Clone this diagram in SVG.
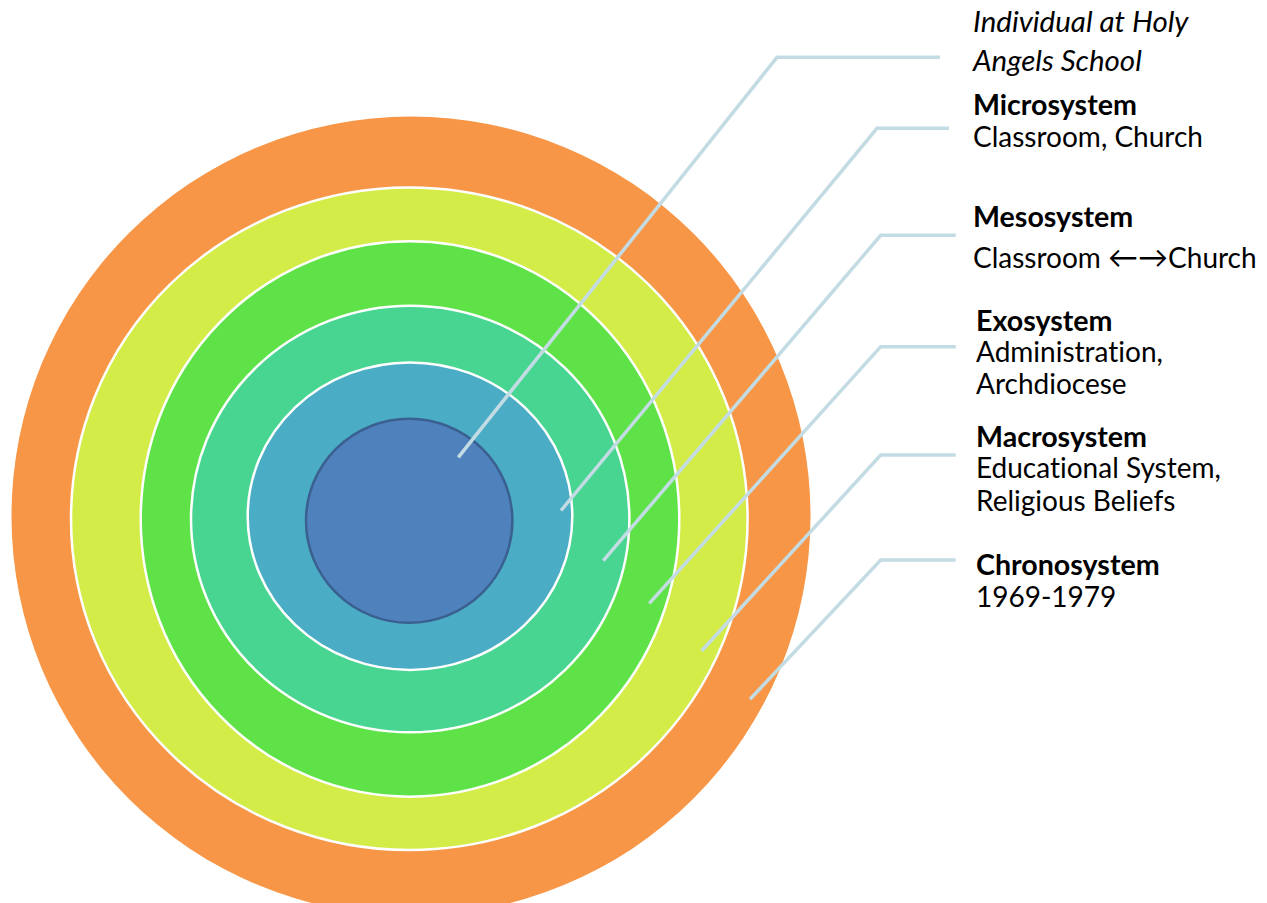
<svg xmlns="http://www.w3.org/2000/svg" width="1267" height="903" viewBox="0 0 1267 903">
<style>
.ring{stroke:#FFFFFF;stroke-width:2.5}
.conn{fill:none;stroke:#C3DCE4;stroke-width:3.5}
.t{font-family:Lato,"Liberation Sans",sans-serif;font-size:28px;fill:#000000;font-variant-ligatures:none}
.b{font-weight:bold;font-size:28.6px}
.i{font-style:italic;font-size:29.5px}
.ar{font-size:30px}
</style>
<rect width="1267" height="903" fill="#FFFFFF"/>
<g id="chronosystem-ring"><ellipse cx="411" cy="516" rx="399.5" ry="399.5" fill="#F79646"/></g>
<g id="macrosystem-ring"><ellipse class="ring" cx="409.3" cy="518.7" rx="338.3" ry="331.3" fill="#D4EC48"/></g>
<g id="exosystem-ring"><ellipse class="ring" cx="410" cy="519" rx="269.3" ry="277.7" fill="#5EE248"/></g>
<g id="mesosystem-ring"><ellipse class="ring" cx="410.2" cy="519" rx="219.2" ry="213.3" fill="#48D592"/></g>
<g id="microsystem-ring"><ellipse class="ring" cx="410" cy="516.2" rx="162.3" ry="153.8" fill="#4BACC6"/></g>
<g id="individual"><ellipse cx="409.2" cy="520.8" rx="103.2" ry="102" fill="#4F81BD" stroke="#3A6090" stroke-width="2.5"/></g>
<g id="connectors">
<polyline class="conn" points="458.3,457.3 777,57.3 940,57.3"/>
<polyline class="conn" points="561,510.5 877,128.3 949,128.3"/>
<polyline class="conn" points="603.3,560.7 880.7,235.3 955.7,235.3"/>
<polyline class="conn" points="649.3,603.3 880.7,346.7 955.7,346.7"/>
<polyline class="conn" points="701.7,650.7 880.7,455 955.7,455"/>
<polyline class="conn" points="750,699.3 880.7,560 955.7,560"/>
</g>
<g id="label-individual">
<text class="t i" x="973" y="32">Individual at Holy</text>
<text class="t i" x="973" y="71">Angels School</text>
</g>
<g id="label-microsystem">
<text class="t b" x="973" y="115">Microsystem</text>
<text class="t" x="973" y="146.7">Classroom, Church</text>
</g>
<g id="label-mesosystem">
<text class="t b" x="973" y="226.7">Mesosystem</text>
<text class="t" x="973" y="267.7">Classroom <tspan class="ar">←→</tspan>Church</text>
</g>
<g id="label-exosystem">
<text class="t b" x="976" y="330.7">Exosystem</text>
<text class="t" x="976" y="361.7">Administration,</text>
<text class="t" x="976" y="394.3">Archdiocese</text>
</g>
<g id="label-macrosystem">
<text class="t b" x="976" y="446.7">Macrosystem</text>
<text class="t" x="976" y="478.3">Educational System,</text>
<text class="t" x="976" y="510.7">Religious Beliefs</text>
</g>
<g id="label-chronosystem">
<text class="t b" x="976" y="575">Chronosystem</text>
<text class="t" x="976" y="606.5">1969-1979</text>
</g>
</svg>
